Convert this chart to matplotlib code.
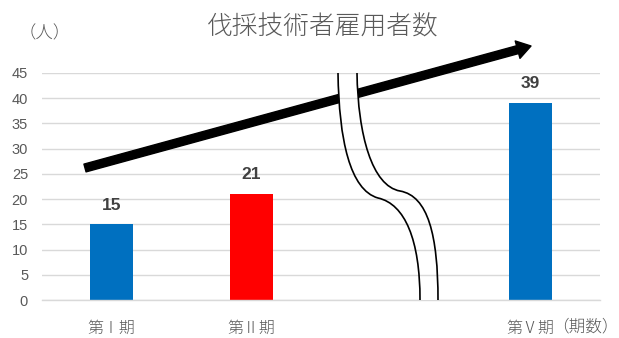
import numpy as np
import matplotlib

matplotlib.use("Agg")
import matplotlib.pyplot as plt  # noqa: E402
from matplotlib.patches import FancyArrowPatch, PathPatch  # noqa: E402
from matplotlib.path import Path  # noqa: E402

plt.rcParams["font.family"] = ["Noto Sans CJK JP", "DejaVu Sans"]

# -------------------------------
# Data
# -------------------------------
periods = ["第Ⅰ期", "第Ⅱ期", "", "第Ⅴ期"]
workers = [15, 21, np.nan, 39]
bar_colors = ["#0070C0", "#FF0000", "#0070C0", "#0070C0"]
y_ticks = list(range(0, 50, 5))

TITLE = "伐採技術者雇用者数"
Y_UNIT = "（人）"
X_UNIT = "（期数）"

GRAY = "#595959"
GRID = "#d9d9d9"

# axes geometry (pixels in the 619x338 picture), used to place decorations
W, H = 619, 338
AX_L, AX_R, AX_T, AX_B = 42, 600, 73, 300


def px_to_data(px, py):
    x = -0.5 + (px - AX_L) / (AX_R - AX_L) * 4.0
    y = (AX_B - py) / (AX_B - AX_T) * 45.0
    return x, y


fig = plt.figure(figsize=(W / 100, H / 100), dpi=100)
ax = fig.add_axes([AX_L / W, 1 - AX_B / H, (AX_R - AX_L) / W, (AX_B - AX_T) / H])

xs = np.arange(len(periods))
vals = np.array(workers, dtype=float)
ok = ~np.isnan(vals)
bars = ax.bar(xs[ok], vals[ok], width=0.31, color=np.array(bar_colors)[ok], zorder=2)

for x, v in zip(xs[ok], vals[ok]):
    ax.annotate(f"{int(v)}", (x, v), xytext=(0, 8.5), textcoords="offset points",
                ha="center", va="bottom", fontsize=12.5, fontweight="bold",
                color="#404040", family=["Liberation Sans", "DejaVu Sans"])

ax.set_xlim(-0.5, 3.5)
ax.set_ylim(0, 45)
ax.set_yticks(y_ticks)
ax.set_yticklabels([str(t) for t in y_ticks], family=["Liberation Sans", "DejaVu Sans"],
                   fontsize=10.5, color=GRAY)
ax.set_xticks(xs)
ax.set_xticklabels(periods, fontsize=11.5, color=GRAY, fontweight="light")
ax.tick_params(axis="y", length=0, pad=10)
ax.tick_params(axis="x", length=0, pad=14)
ax.grid(axis="y", color=GRID, linewidth=1.0)
ax.set_axisbelow(True)
for s in ["top", "right", "left"]:
    ax.spines[s].set_visible(False)
ax.spines["bottom"].set_color(GRID)
ax.spines["bottom"].set_linewidth(1.0)

# Trend arrow
tail = px_to_data(85, 168)
tip = px_to_data(531, 46)
arrow = FancyArrowPatch(tail, tip,
                        arrowstyle="simple,head_length=1.0,head_width=1.3,tail_width=0.58",
                        mutation_scale=10, color="black", shrinkA=0, shrinkB=0,
                        zorder=3, clip_on=False)
ax.add_patch(arrow)

# Axis break symbol (white band between two S curves)
left_pts = [(338, 73), (339, 140), (350, 190), (378, 198),
            (405, 204), (420, 240), (420, 300)]
right_pts = [(357, 73), (358, 135), (372, 186), (400, 191),
             (428, 196), (438, 235), (438, 300)]
left_d = [px_to_data(*p) for p in left_pts]
right_d = [px_to_data(*p) for p in right_pts]
curve_codes = [Path.MOVETO] + [Path.CURVE4] * 6

band_verts = left_d + [right_d[-1]] + right_d[::-1][1:] + [left_d[0]]
band_codes = ([Path.MOVETO] + [Path.CURVE4] * 6 + [Path.LINETO]
              + [Path.CURVE4] * 6 + [Path.CLOSEPOLY])
band = PathPatch(Path(band_verts, band_codes), facecolor="white", edgecolor="none",
                 zorder=4, clip_on=False)
ax.add_patch(band)
for t in y_ticks[1:]:
    gl = ax.axhline(t, color=GRID, linewidth=1.0, zorder=4.5)
    gl.set_clip_path(band)
for pts in (left_d, right_d):
    ax.add_patch(PathPatch(Path(pts, curve_codes), facecolor="none", edgecolor="black",
                           linewidth=1.2, zorder=5, clip_on=False))

fig.text(323 / W, 1 - 27 / H, TITLE, ha="center", va="center", fontsize=18.5,
         color=GRAY, fontweight="light")
fig.text(45 / W, 1 - 33 / H, Y_UNIT, ha="center", va="center", fontsize=12.5,
         color=GRAY, fontweight="light")
fig.text(618.5 / W, 1 - 327 / H, X_UNIT, ha="right", va="center", fontsize=12,
         color=GRAY, fontweight="light")

fig.savefig("out.png", dpi=100)
